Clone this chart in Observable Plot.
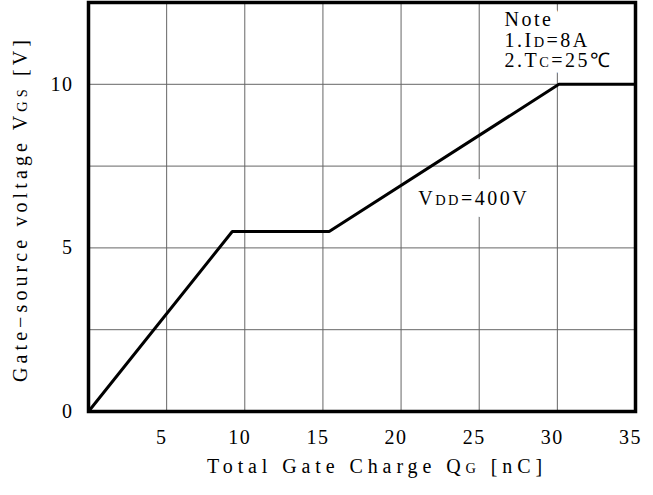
<!DOCTYPE html>
<html>
<head>
<meta charset="utf-8">
<script src="https://cdn.jsdelivr.net/npm/d3@7"></script>
<script src="https://cdn.jsdelivr.net/npm/@observablehq/plot@0.6"></script>
<style>
  html, body { margin: 0; padding: 0; background: #fff; }
</style>
</head>
<body>
<div id="chart"></div>
<script>
// Gate charge curve (Qg in nC, VGS in V)
const qg  = [0, 9.2, 15.4, 30.1, 35];
const vgs = [0, 5.5, 5.5, 10, 10];

const xTicks = [5, 10, 15, 20, 25, 30, 35];
const yTicks = [0, 5, 10];
const xGrid = [5, 10, 15, 20, 25, 30];
const yGrid = [2.5, 5, 7.5, 10];

const xLabel = "Total Gate Charge Q_{G} [nC]";
const yLabel = "Gate\u2212source voltage V_{GS} [V]";
const curveLabel = "V_{DD}=400V";
const noteLines = ["Note", "1.I_{D}=8A", "2.T_{C}=25\u2103"];

const points = qg.map((q, i) => ({q, v: vgs[i]}));

const noteOpts = {frameAnchor: "top-right", textAnchor: "start", lineAnchor: "top", dx: -131, dy: 9, lineHeight: 1.03, fontSize: 20};
const curveOpts = {x: 21.1, y: 6.5, textAnchor: "start", fontSize: 20};

const chart = Plot.plot({
  width: 653,
  height: 495,
  marginLeft: 88,
  marginRight: 18,
  marginTop: 2,
  marginBottom: 84,
  style: {fontFamily: "'Liberation Serif', serif", fontSize: "20px", color: "#000", background: "#fff", overflow: "visible"},
  x: {domain: [0, 35]},
  y: {domain: [0, 12.5]},
  marks: [
    Plot.ruleX(xGrid, {stroke: "#666", strokeWidth: 1}),
    Plot.ruleY(yGrid, {stroke: "#666", strokeWidth: 1}),
    Plot.axisX({ticks: xTicks, tickSize: 0, tickPadding: 18, dx: -5, label: null, fontSize: 20}),
    Plot.axisY({ticks: yTicks, tickSize: 0, tickPadding: 15, label: null, fontSize: 20}),
    Plot.text([xLabel], {frameAnchor: "bottom", textAnchor: "middle", dx: 15, dy: 61, fontSize: 20, fill: "black"}),
    Plot.text([yLabel], {frameAnchor: "left", textAnchor: "middle", rotate: -90, dx: -68, dy: 2, fontSize: 20, fill: "black"}),
    // white knock-outs behind the annotations
    Plot.text([noteLines.join("\n")], {...noteOpts, fill: "white", stroke: "white", strokeWidth: 20}),
    Plot.text([curveLabel], {...curveOpts, fill: "white", stroke: "white", strokeWidth: 24}),
    Plot.text([noteLines.join("\n")], {...noteOpts, fill: "black"}),
    Plot.text([curveLabel], {...curveOpts, fill: "black"}),
    Plot.line(points, {x: "q", y: "v", stroke: "black", strokeWidth: 3, strokeLinejoin: "miter"}),
    Plot.frame({stroke: "black", strokeWidth: 3.5})
  ]
});

// subscript-like small capitals and letter spacing
const svg = d3.select(chart);
svg.selectAll("text, tspan").each(function() {
  if (this.children.length) return;
  const s = this.textContent;
  if (!s.includes("_{")) return;
  const parts = s.split(/_\{([^}]*)\}/);
  this.textContent = "";
  parts.forEach((p, i) => {
    if (!p) return;
    const t = document.createElementNS("http://www.w3.org/2000/svg", "tspan");
    t.textContent = p;
    if (i % 2 === 1) t.setAttribute("font-size", "0.72em");
    this.appendChild(t);
  });
});
svg.selectAll("text").each(function() {
  const s = this.textContent;
  if (s.startsWith("Total")) this.setAttribute("letter-spacing", "4.9px");
  else if (s.startsWith("Gate")) this.setAttribute("letter-spacing", "4.1px");
  else if (s.startsWith("V") || s.startsWith("Note")) this.setAttribute("letter-spacing", "2.5px");
  else this.setAttribute("letter-spacing", "1.5px");
});

document.getElementById("chart").appendChild(chart);
</script>
</body>
</html>
